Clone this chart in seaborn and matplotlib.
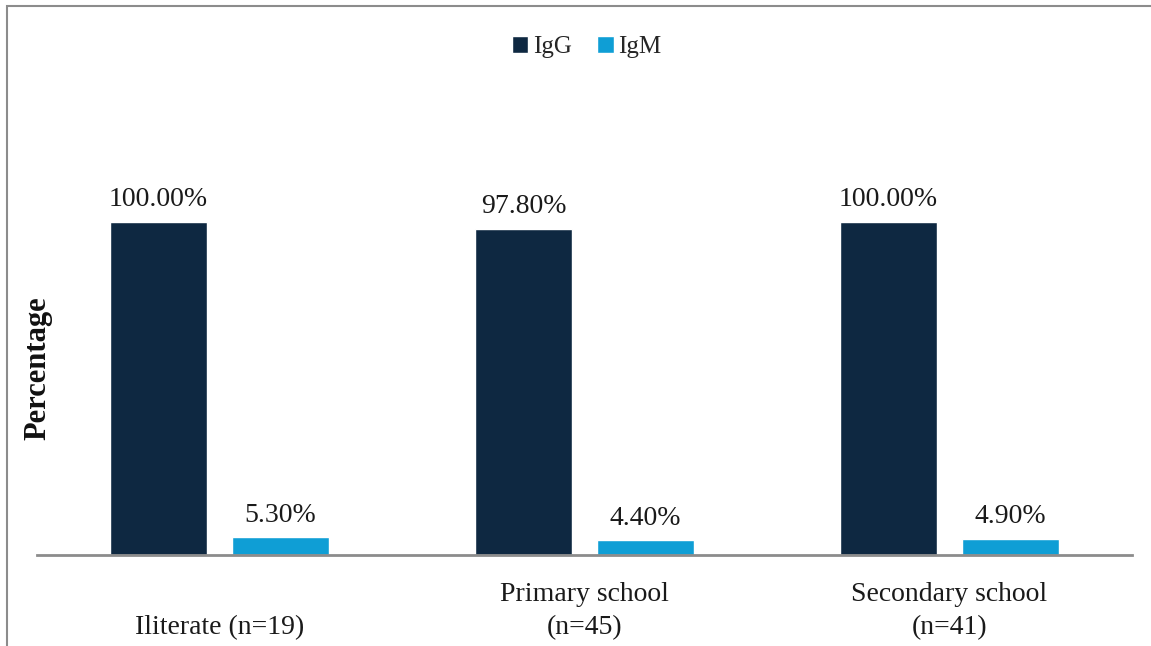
import matplotlib
matplotlib.use("Agg")
import matplotlib.pyplot as plt
import seaborn as sns
import pandas as pd

# Seropositivity by education level
categories = ["\nIliterate (n=19)", "Primary school\n(n=45)", "Secondary school\n(n=41)"]
igg = [100.00, 97.80, 100.00]
igm = [5.30, 4.40, 4.90]
series = ["IgG", "IgM"]
colors = ["#0E2841", "#0F9ED5"]

df = pd.DataFrame({
    "Education": categories * 2,
    "Antibody": ["IgG"] * 3 + ["IgM"] * 3,
    "Percentage": igg + igm,
})

sns.set_theme(style="white")
plt.rcParams["font.family"] = ["Liberation Serif", "DejaVu Serif"]

W, H = 1151, 646
fig = plt.figure(figsize=(W / 100, H / 100), dpi=100)
ax = fig.add_axes([37 / W, (H - 555) / H, (1132 - 37) / W, 400 / H])

sns.barplot(data=df, x="Education", y="Percentage", hue="Antibody",
            hue_order=series, palette=colors, width=0.668, gap=0.205,
            saturation=1, ax=ax, legend=True)

for cont in ax.containers:
    ax.bar_label(cont, labels=[f"{v:.2f}%" for v in cont.datavalues],
                 padding=7, fontsize=20, color="#1a1a1a")

ax.set_ylim(0, 120)
ax.set_xlim(-0.5, 2.5)
ax.set_yticks([])
ax.set_xlabel("")
ax.set_ylabel("")
for side in ["top", "right", "left"]:
    ax.spines[side].set_visible(False)
ax.spines["bottom"].set_color("#8c8c8c")
ax.spines["bottom"].set_linewidth(2)
ax.tick_params(axis="x", length=0, pad=19.5, labelsize=20, labelcolor="#1a1a1a")
for lbl in ax.get_xticklabels():
    lbl.set_linespacing(1.4)

fig.text(38 / W, 1 - 368 / H, "Percentage", rotation=90, ha="center", va="center",
         fontsize=22, fontweight="bold", color="#111111")

ax.legend(loc="center", bbox_to_anchor=(587 / W, 1 - 47 / H),
          bbox_transform=fig.transFigure, ncol=2, frameon=False,
          fontsize=18, handlelength=0.65, handleheight=0.65,
          handletextpad=0.2, columnspacing=1.0)

# chart frame
frame = plt.Rectangle((7 / W, -0.05), 1.1, 1 - 6 / H + 0.05, transform=fig.transFigure,
                      fill=False, edgecolor="#8c8c8c", linewidth=1.5)
fig.patches.append(frame)

fig.savefig("out.png", dpi=100)
